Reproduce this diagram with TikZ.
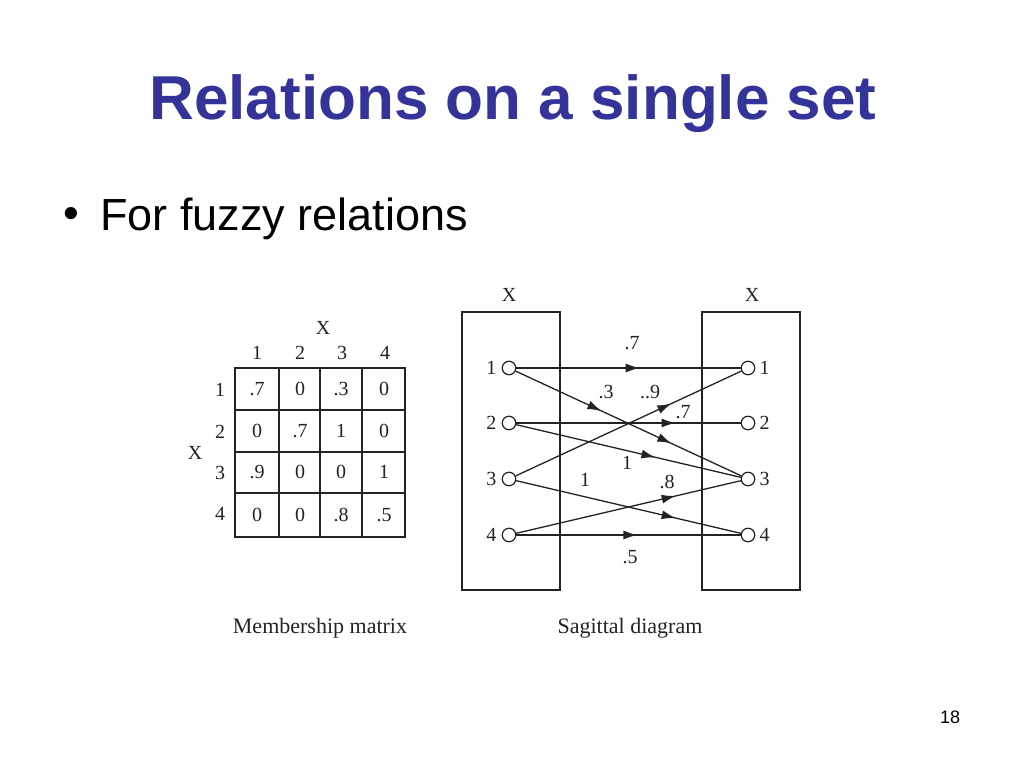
\documentclass[tikz,border=0pt]{standalone}
\usepackage{fontspec}
\setmainfont{Liberation Serif}
\newfontfamily\slidefont{Liberation Sans}
\usepackage{xcolor}
\usepackage{tikz}
\definecolor{titleblue}{RGB}{51,51,153}
\definecolor{inkgray}{RGB}{35,35,35}
\usetikzlibrary{arrows.meta,decorations.markings}

\tikzset{
  dig/.style={font=\fontsize{20}{24}\selectfont,inner sep=0pt,text=inkgray},
  captext/.style={font=\fontsize{22}{24}\selectfont,inner sep=0pt,text=inkgray},
  pt/.style={draw=inkgray,circle,minimum size=13.5pt,inner sep=0pt,line width=1.2pt},
  flow/.style={postaction={decorate,decoration={markings,
      mark=at position #1 with {\arrow{Latex[length=14pt,width=9pt]}}}}},
  wire/.style={draw=inkgray,line width=1.3pt},
  grid/.style={draw=inkgray,line width=1.6pt}
}

\begin{document}
\begin{tikzpicture}[x=1pt,y=-1pt]
        \useasboundingbox[fill=white] (0,0) rectangle (1024,768);
        % title and bullet
        \node[anchor=base,text=titleblue,font=\slidefont\bfseries\fontsize{62}{70}\selectfont] (title) at (513,119) {Relations on a single set};
        \node[anchor=base west,inner sep=0pt,font=\slidefont\fontsize{45}{50}\selectfont] (bul) at (63,228) {\textbullet};
        \node[anchor=base west,inner sep=0pt,font=\slidefont\fontsize{45}{50}\selectfont] (item) at (100,230) {For fuzzy relations};
        \node[font=\slidefont\fontsize{18}{20}\selectfont] (pnum) at (950,717) {18};
        % membership matrix
        \draw[grid] (235,368) rectangle (405,537);
        \foreach \x in {279,320,362} \draw[grid] (\x,368) -- (\x,537);
        \foreach \y in {410,452,493} \draw[grid] (235,\y) -- (405,\y);
        \node[dig] (mxtop) at (323,328) {X};
        \node[dig] (mxleft) at (195,453) {X};
        \foreach \c/\x in {1/257,2/300,3/342,4/385} \node[dig] (col\c) at (\x,353) {\c};
        \foreach \r/\y in {1/390,2/432,3/473,4/514} \node[dig] (row\r) at (220,\y) {\r};
        \foreach \r/\y/\a/\b/\c/\d in {1/389/.7/0/.3/0, 2/431/0/.7/1/0, 3/472/.9/0/0/1, 4/515/0/0/.8/.5}{
          \node[dig] (m\r a) at (257,\y) {\a};
          \node[dig] (m\r b) at (300,\y) {\b};
          \node[dig] (m\r c) at (341,\y) {\c};
          \node[dig] (m\r d) at (384,\y) {\d};
        }
        \node[captext] (capm) at (320,628) {Membership matrix};
        % sagittal diagram
        \draw[wire] (462,312) rectangle (560,590);
        \draw[wire] (702,312) rectangle (800,590);
        \node[dig] (sxl) at (509,295) {X};
        \node[dig] (sxr) at (752,295) {X};
        \foreach \i/\y in {1/368,2/423,3/479,4/535}{
          \node[pt,label={[dig,label distance=5pt]left:\i}] (l\i) at (509,\y) {};
          \node[pt,label={[dig,label distance=4pt]right:\i}] (r\i) at (748,\y) {};
        }
        \draw[wire,flow=0.55] (l1) -- (r1);
        \draw[wire,flow=0.38,flow=0.69] (l1) -- (r3);
        \draw[wire,flow=0.71] (l2) -- (r2);
        \draw[wire,flow=0.62] (l2) -- (r3);
        \draw[wire,flow=0.69] (l3) -- (r1);
        \draw[wire,flow=0.71] (l3) -- (r4);
        \draw[wire,flow=0.71] (l4) -- (r3);
        \draw[wire,flow=0.54] (l4) -- (r4);
        \node[dig] (w11) at (632,343) {.7};
        \node[dig] (w13) at (606,392) {.3};
        \node[dig] (w31) at (650,392) {..9};
        \node[dig] (w22) at (683,412) {.7};
        \node[dig] (w23) at (627,463) {1};
        \node[dig] (w34) at (585,480) {1};
        \node[dig] (w43) at (667,482) {.8};
        \node[dig] (w44) at (630,557) {.5};
        \node[captext] (caps) at (630,628) {Sagittal diagram};
      \end{tikzpicture}
\end{document}
